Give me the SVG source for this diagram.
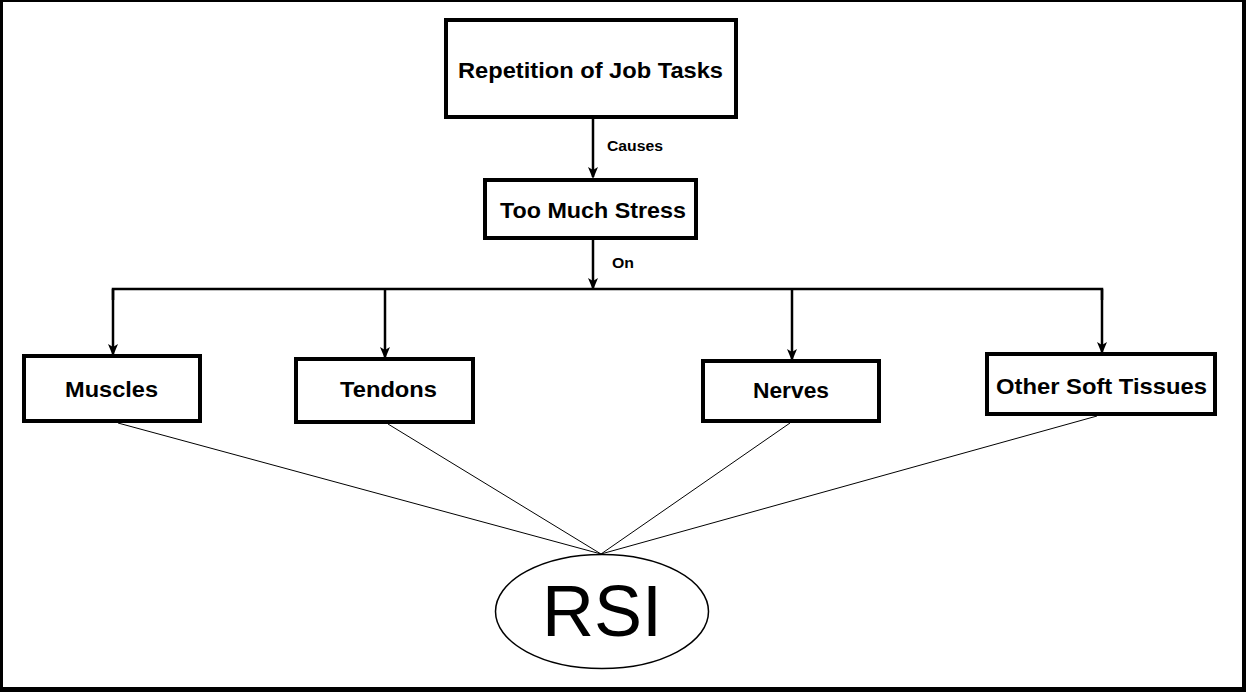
<svg xmlns="http://www.w3.org/2000/svg" width="1246" height="692" viewBox="0 0 1246 692">
<style>
.box{fill:#fff;stroke:#000;stroke-width:4}
.t{font-family:"Liberation Sans",Arial,sans-serif;font-weight:bold;font-size:22px;text-anchor:middle;fill:#000}
.lbl{font-family:"Liberation Sans",Arial,sans-serif;font-weight:bold;font-size:14px;fill:#000}
.arr{fill:none;stroke:#000;stroke-width:2.5}
.thin{fill:none;stroke:#000;stroke-width:1}
</style>
<defs>
<marker id="ah" markerWidth="12" markerHeight="10" refX="10" refY="5" orient="auto" markerUnits="userSpaceOnUse" viewBox="0 0 12 10">
<path d="M0,0 L12,5 L0,10 L3,5 Z" fill="#000"/>
</marker>
</defs>
<rect x="0" y="0" width="1246" height="692" fill="#000"/>
<rect x="3" y="2" width="1239" height="685" fill="#fff"/>
<g id="connectors">
<line class="arr" x1="593" y1="119" x2="593" y2="177" marker-end="url(#ah)"/>
<line class="arr" x1="593" y1="240" x2="593" y2="288" marker-end="url(#ah)"/>
<polyline class="arr" points="113,300 113,289 1102,289 1102,300"/>
<line class="arr" x1="113" y1="289" x2="113" y2="354" marker-end="url(#ah)"/>
<line class="arr" x1="385" y1="289" x2="385" y2="357" marker-end="url(#ah)"/>
<line class="arr" x1="792" y1="289" x2="792" y2="359" marker-end="url(#ah)"/>
<line class="arr" x1="1102" y1="289" x2="1102" y2="352" marker-end="url(#ah)"/>
<text class="lbl" x="607" y="151" textLength="56" lengthAdjust="spacingAndGlyphs">Causes</text>
<text class="lbl" x="612" y="268" textLength="22" lengthAdjust="spacingAndGlyphs">On</text>
<line class="thin" x1="118" y1="423" x2="601" y2="554"/>
<line class="thin" x1="388" y1="424" x2="601" y2="554"/>
<line class="thin" x1="790" y1="423" x2="601" y2="554"/>
<line class="thin" x1="1097" y1="416" x2="601" y2="554"/>
</g>
<g id="repetition">
<rect class="box" x="446" y="20" width="290" height="97"/>
<text class="t" x="590.5" y="78" textLength="265" lengthAdjust="spacingAndGlyphs">Repetition of Job Tasks</text>
</g>
<g id="stress">
<rect class="box" x="485" y="180" width="211" height="58"/>
<text class="t" x="593" y="218" textLength="186" lengthAdjust="spacingAndGlyphs">Too Much Stress</text>
</g>
<g id="muscles">
<rect class="box" x="24" y="356" width="176" height="65"/>
<text class="t" x="111.5" y="397" textLength="93" lengthAdjust="spacingAndGlyphs">Muscles</text>
</g>
<g id="tendons">
<rect class="box" x="296" y="359" width="177" height="63"/>
<text class="t" x="388.5" y="397" textLength="97" lengthAdjust="spacingAndGlyphs">Tendons</text>
</g>
<g id="nerves">
<rect class="box" x="703" y="361" width="176" height="60"/>
<text class="t" x="791" y="398" textLength="76" lengthAdjust="spacingAndGlyphs">Nerves</text>
</g>
<g id="soft">
<rect class="box" x="987" y="354" width="228" height="60"/>
<text class="t" x="1101.5" y="394" textLength="211" lengthAdjust="spacingAndGlyphs">Other Soft Tissues</text>
</g>
<g id="rsi">
<ellipse cx="602" cy="611.5" rx="106.5" ry="57" fill="#fff" stroke="#000" stroke-width="1.5"/>
<text x="602" y="636" font-family="'Liberation Sans',Arial,sans-serif" font-size="72" text-anchor="middle" fill="#000">RSI</text>
</g>
</svg>
